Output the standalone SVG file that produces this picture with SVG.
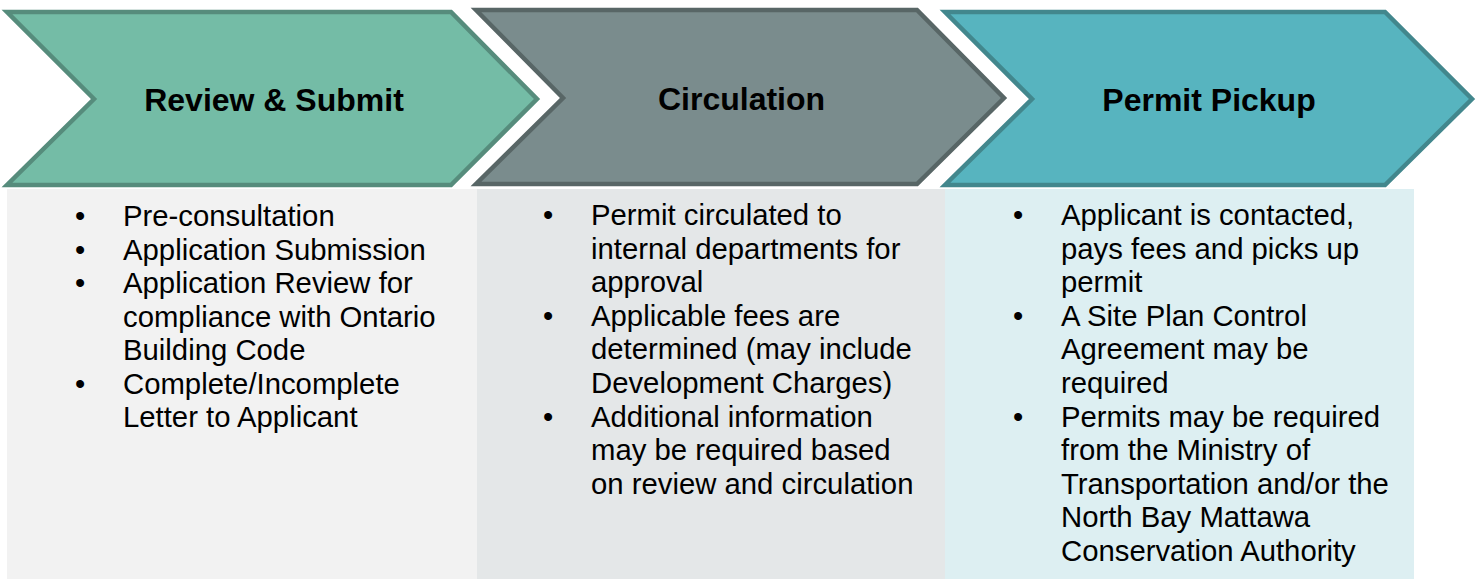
<svg xmlns="http://www.w3.org/2000/svg" width="1481" height="579" viewBox="0 0 1481 579">
<style>
.title{font-family:"Liberation Sans",Arial,sans-serif;font-weight:bold;font-size:32px;fill:#000;text-anchor:middle}
.body{font-family:"Liberation Sans",Arial,sans-serif;font-size:29.3px;fill:#000}
.chev{stroke-width:4.5;stroke-linejoin:miter}
</style>
<rect width="1481" height="579" fill="#ffffff"/>
<g id="panels">
<rect id="panel1" x="7" y="189" width="470" height="390" fill="#f2f2f2"/>
<rect id="panel2" x="477" y="189" width="468" height="390" fill="#e4e7e8"/>
<rect id="panel3" x="945" y="189" width="469" height="390" fill="#ddeff2"/>
</g>
<g id="connectors"></g>
<g id="step1">
<path class="chev" d="M7,12 L451,12 L537,99 L451,185 L7,185 L94,99 Z" fill="#74bca6" stroke="#568c7c"/>
<text class="title" x="274" y="111">Review &amp; Submit</text>
</g>
<g id="step2">
<path class="chev" d="M476,10 L917,10 L1004,98 L917,184 L476,184 L563,98 Z" fill="#7a8c8d" stroke="#586666"/>
<text class="title" x="741.5" y="110">Circulation</text>
</g>
<g id="step3">
<path class="chev" d="M945,12 L1385,12 L1472,99 L1385,185 L945,185 L1032,99 Z" fill="#57b4bf" stroke="#42878d"/>
<text class="title" x="1209" y="111">Permit Pickup</text>
</g>
<g id="list1" class="body">
<text x="75" y="226">•</text><text x="123" y="226">Pre-consultation</text>
<text x="75" y="259.5">•</text><text x="123" y="259.5">Application Submission</text>
<text x="75" y="293">•</text><text x="123" y="293">Application Review for</text>
<text x="123" y="326.5">compliance with Ontario</text>
<text x="123" y="360">Building Code</text>
<text x="75" y="393.5">•</text><text x="123" y="393.5">Complete/Incomplete</text>
<text x="123" y="427">Letter to Applicant</text>
</g>
<g id="list2" class="body">
<text x="543" y="225">•</text><text x="591" y="225">Permit circulated to</text>
<text x="591" y="258.6">internal departments for</text>
<text x="591" y="292.2">approval</text>
<text x="543" y="325.8">•</text><text x="591" y="325.8">Applicable fees are</text>
<text x="591" y="359.4">determined (may include</text>
<text x="591" y="393">Development Charges)</text>
<text x="543" y="426.6">•</text><text x="591" y="426.6">Additional information</text>
<text x="591" y="460.2">may be required based</text>
<text x="591" y="493.8">on review and circulation</text>
</g>
<g id="list3" class="body">
<text x="1013" y="225">•</text><text x="1061" y="225">Applicant is contacted,</text>
<text x="1061" y="258.6">pays fees and picks up</text>
<text x="1061" y="292.2">permit</text>
<text x="1013" y="325.8">•</text><text x="1061" y="325.8">A Site Plan Control</text>
<text x="1061" y="359.4">Agreement may be</text>
<text x="1061" y="393">required</text>
<text x="1013" y="426.6">•</text><text x="1061" y="426.6">Permits may be required</text>
<text x="1061" y="460.2">from the Ministry of</text>
<text x="1061" y="493.8">Transportation and/or the</text>
<text x="1061" y="527.4">North Bay Mattawa</text>
<text x="1061" y="561">Conservation Authority</text>
</g>
</svg>
